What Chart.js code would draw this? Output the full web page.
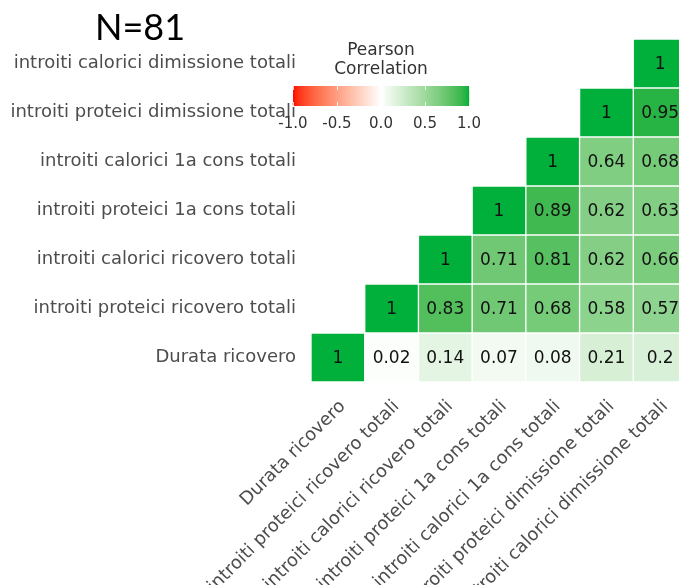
<!DOCTYPE html>
<html>
<head>
<meta charset="utf-8">
<script src="https://cdn.jsdelivr.net/npm/chart.js@4/dist/chart.umd.min.js"></script>
<style>
  html, body { margin: 0; padding: 0; background: #fff; overflow: hidden; }
  #wrap { position: relative; width: 700px; height: 585px; }
</style>
</head>
<body>
<div id="wrap"><canvas id="c"></canvas></div>
<script>
// Variables, bottom-to-top on the y axis and left-to-right on the x axis
const variables = [
  'Durata ricovero',
  'introiti proteici ricovero totali',
  'introiti calorici ricovero totali',
  'introiti proteici 1a cons totali',
  'introiti calorici 1a cons totali',
  'introiti proteici dimissione totali',
  'introiti calorici dimissione totali'
];

// Pearson correlations, one array per row (row variable vs each column variable)
const corrDurata       = [1, 0.02, 0.14, 0.07, 0.08, 0.21, 0.2];
const corrProtRicovero = [null, 1, 0.83, 0.71, 0.68, 0.58, 0.57];
const corrCalRicovero  = [null, null, 1, 0.71, 0.81, 0.62, 0.66];
const corrProt1a       = [null, null, null, 1, 0.89, 0.62, 0.63];
const corrCal1a        = [null, null, null, null, 1, 0.64, 0.68];
const corrProtDim      = [null, null, null, null, null, 1, 0.95];
const corrCalDim       = [null, null, null, null, null, null, 1];
const corrRows = [corrDurata, corrProtRicovero, corrCalRicovero, corrProt1a, corrCal1a, corrProtDim, corrCalDim];

const legendTicks = [-1.0, -0.5, 0.0, 0.5, 1.0];
const sampleSize = 81;

// Diverging fill scale red - white - green, interpolated in CIE Lab
const LOW = [255, 0, 0], MID = [255, 255, 255], HIGH = [0, 176, 58];
function rgbToLab([r, g, b]) {
  const lin = c => { c /= 255; return c <= 0.04045 ? c / 12.92 : Math.pow((c + 0.055) / 1.055, 2.4); };
  const R = lin(r), G = lin(g), B = lin(b);
  const X = (0.4124 * R + 0.3576 * G + 0.1805 * B) / 0.95047;
  const Y = (0.2126 * R + 0.7152 * G + 0.0722 * B);
  const Z = (0.0193 * R + 0.1192 * G + 0.9505 * B) / 1.08883;
  const f = t => t > 0.008856 ? Math.cbrt(t) : 7.787 * t + 16 / 116;
  return [116 * f(Y) - 16, 500 * (f(X) - f(Y)), 200 * (f(Y) - f(Z))];
}
function labToRgb([L, a, b]) {
  const fy = (L + 16) / 116, fx = fy + a / 500, fz = fy - b / 200;
  const inv = t => t * t * t > 0.008856 ? t * t * t : (t - 16 / 116) / 7.787;
  const X = inv(fx) * 0.95047, Y = inv(fy), Z = inv(fz) * 1.08883;
  const R = 3.2406 * X - 1.5372 * Y - 0.4986 * Z;
  const G = -0.9689 * X + 1.8758 * Y + 0.0415 * Z;
  const B = 0.0557 * X - 0.2040 * Y + 1.0570 * Z;
  const g = c => {
    c = c <= 0.0031308 ? 12.92 * c : 1.055 * Math.pow(c, 1 / 2.4) - 0.055;
    return Math.round(Math.min(1, Math.max(0, c)) * 255);
  };
  return `rgb(${g(R)},${g(G)},${g(B)})`;
}
const labLow = rgbToLab(LOW), labMid = rgbToLab(MID), labHigh = rgbToLab(HIGH);
function fillFor(v) {
  const end = v >= 0 ? labHigh : labLow;
  const t = Math.min(1, Math.abs(v));
  return labToRgb(labMid.map((m, i) => m + (end[i] - m) * t));
}

const FONT = '"DejaVu Sans", sans-serif';

// One floating-bar dataset per row; each bar spans one row band
const datasets = corrRows.map((row, r) => ({
  label: variables[r],
  data: row.map(v => (v === null ? null : [r, r + 1])),
  corr: row,
  backgroundColor: row.map(v => (v === null ? 'transparent' : fillFor(v))),
  borderColor: 'rgba(255,255,255,0.55)',
  borderWidth: 1,
  borderSkipped: false,
  grouped: false,
  barPercentage: 1,
  categoryPercentage: 1
}));

// Writes the coefficient in the middle of each cell
const cellValues = {
  id: 'cellValues',
  afterDatasetsDraw(chart) {
    const ctx = chart.ctx;
    ctx.save();
    ctx.font = '17px ' + FONT;
    ctx.fillStyle = '#111';
    ctx.textAlign = 'center';
    ctx.textBaseline = 'middle';
    chart.data.datasets.forEach((ds, di) => {
      chart.getDatasetMeta(di).data.forEach((el, i) => {
        const v = ds.corr[i];
        if (v === null || v === undefined) return;
        ctx.fillText(String(v), el.x, (el.y + el.base) / 2 + 1);
      });
    });
    ctx.restore();
  }
};

// Sample-size heading and the colour bar key
const headerAndKey = {
  id: 'headerAndKey',
  afterDraw(chart) {
    const ctx = chart.ctx;
    ctx.save();
    ctx.fillStyle = '#000';
    ctx.font = '36px Lato, "Open Sans", sans-serif';
    ctx.textAlign = 'center';
    ctx.textBaseline = 'alphabetic';
    ctx.fillText('N=' + sampleSize, 140, 40);

    const x0 = 293, x1 = 469, y0 = 86, y1 = 106;
    ctx.fillStyle = '#333';
    ctx.font = '17px ' + FONT;
    ctx.textBaseline = 'middle';
    ctx.fillText('Pearson', (x0 + x1) / 2, 51);
    ctx.fillText('Correlation', (x0 + x1) / 2, 70);

    const steps = x1 - x0;
    for (let k = 0; k < steps; k++) {
      const v = -1 + 2 * (k + 0.5) / steps;
      ctx.fillStyle = fillFor(v);
      ctx.fillRect(x0 + k, y0, 1.2, y1 - y0);
    }
    ctx.strokeStyle = 'rgba(255,255,255,0.8)';
    ctx.lineWidth = 1;
    ctx.font = '15px ' + FONT;
    ctx.fillStyle = '#333';
    legendTicks.forEach(t => {
      const x = x0 + (t + 1) / 2 * (x1 - x0);
      ctx.beginPath();
      ctx.moveTo(Math.round(x) + 0.5, y0); ctx.lineTo(Math.round(x) + 0.5, y0 + 4);
      ctx.moveTo(Math.round(x) + 0.5, y1 - 4); ctx.lineTo(Math.round(x) + 0.5, y1);
      ctx.stroke();
      ctx.fillText(t.toFixed(1), x, 124);
    });
    ctx.restore();
  }
};

new Chart(document.getElementById('c'), {
  type: 'bar',
  data: { labels: variables, datasets },
  plugins: [cellValues, headerAndKey],
  options: {
    responsive: true,
    maintainAspectRatio: false,
    animation: false,
    layout: { padding: { left: 0, right: 13, top: 39, bottom: 0 } },
    plugins: { legend: { display: false }, tooltip: { enabled: false }, title: { display: false } },
    scales: {
      x: {
        type: 'category',
        offset: true,
        grid: { display: false, drawTicks: false },
        border: { display: false },
        ticks: {
          autoSkip: false,
          minRotation: 45,
          maxRotation: 45,
          padding: 14,
          labelOffset: 5,
          color: '#4d4d4d',
          font: { family: FONT, size: 18 }
        },
        afterFit(scale) { scale.height = 203; }
      },
      y: {
        type: 'linear',
        min: 0,
        max: 7,
        grid: { display: false, drawTicks: false },
        border: { display: false },
        afterBuildTicks(scale) {
          scale.ticks = variables.map((_, i) => ({ value: i + 0.5 }));
        },
        ticks: {
          autoSkip: false,
          padding: 15,
          color: '#4d4d4d',
          font: { family: FONT, size: 18 },
          callback: v => variables[Math.round(v - 0.5)]
        },
        afterFit(scale) { scale.width = 311; }
      }
    }
  }
});
</script>
</body>
</html>
